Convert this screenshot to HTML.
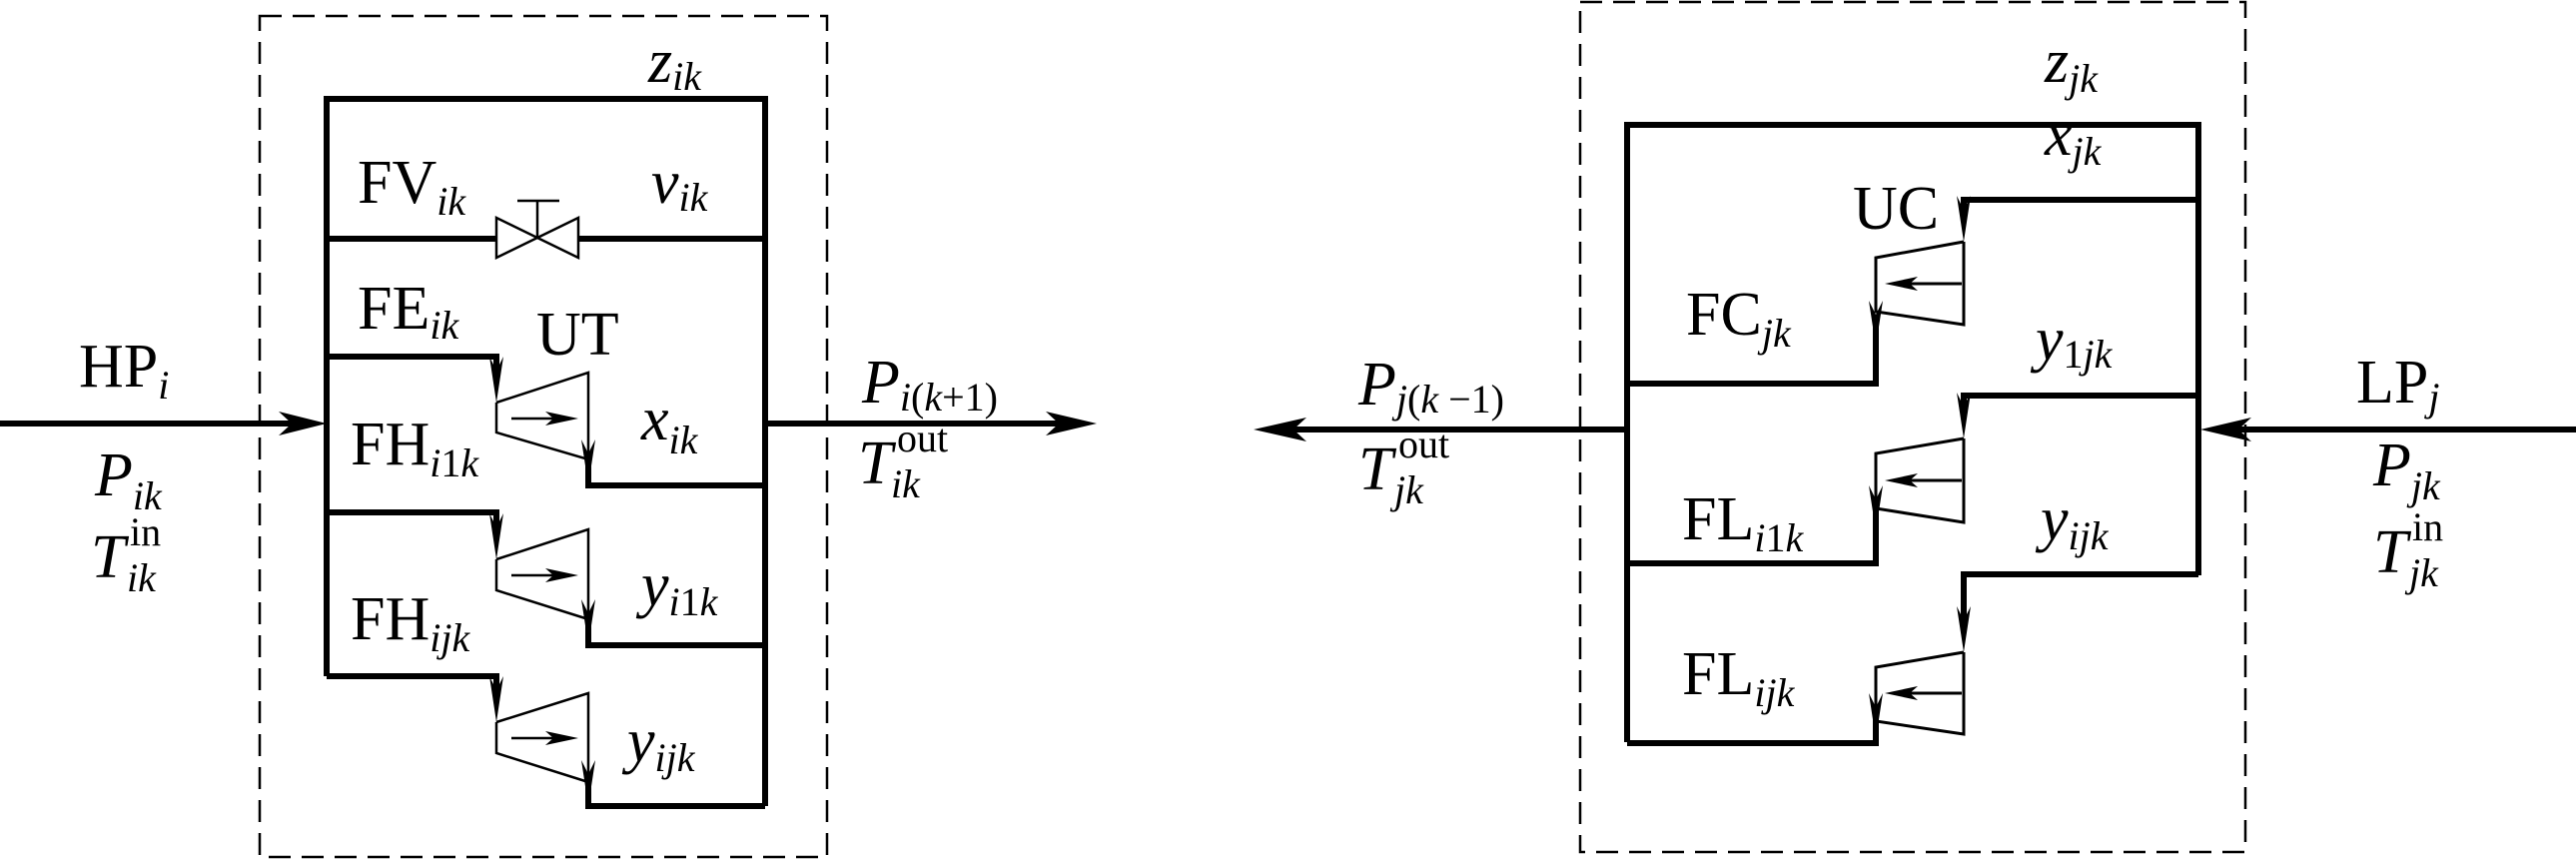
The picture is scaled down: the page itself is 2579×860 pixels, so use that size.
<!DOCTYPE html>
<html><head><meta charset="utf-8"><style>
html,body{margin:0;padding:0;background:#fff}
svg{display:block}
text{font-family:"Liberation Serif","Times New Roman",serif;fill:#000}
</style></head><body>
<svg width="2579" height="860" viewBox="0 0 2579 860" xmlns="http://www.w3.org/2000/svg">
<defs>
<g id="da"><polygon points="0,0 -7,-46 0,-32 7,-46" fill="#000"/></g>
</defs>
<g fill="none" stroke="#000">
<rect x="260" y="16" width="568" height="842" stroke-width="2.5" stroke-dasharray="22,11"/>
<rect x="1582" y="2" width="666" height="851" stroke-width="2.5" stroke-dasharray="22,11"/>

<g stroke-width="6">
<polyline points="327,677 327,99 766,99 766,807"/>
<line x1="327" y1="239" x2="497" y2="239"/>
<line x1="579" y1="239" x2="766" y2="239"/>
<polyline points="327,357 497,357 497,375"/>
<polyline points="589,460 589,486 766,486"/>
<polyline points="327,513 497,513 497,532"/>
<polyline points="589,620 589,646 766,646"/>
<polyline points="327,677 497,677 497,695"/>
<polyline points="589,783 589,807 766,807"/>
<line x1="0" y1="424" x2="300" y2="424"/>
<line x1="766" y1="424" x2="1060" y2="424"/>
</g>
<g stroke-width="2.5">
<polygon points="497,218 497,258 579,218 579,258"/>
<line x1="538" y1="238" x2="538" y2="201"/>
<line x1="518" y1="201" x2="560" y2="201"/>
<polyline points="497,403 497,433 589,460 589,373 497,403"/>
<line x1="512" y1="419" x2="560" y2="419"/>
<polyline points="497,560 497,591 589,620 589,530 497,560"/>
<line x1="512" y1="576" x2="560" y2="576"/>
<polyline points="497,723 497,754 589,783 589,694 497,723"/>
<line x1="512" y1="739" x2="560" y2="739"/>
</g>

<g stroke-width="6">
<polyline points="1629,743 1629,125 2201,125 2201,576"/>
<polyline points="2201,200 1966,200 1966,215"/>
<polyline points="1878,320 1878,384 1629,384"/>
<polyline points="2201,396 1966,396 1966,412"/>
<polyline points="1878,510 1878,564 1629,564"/>
<polyline points="2201,575 1966,575 1966,625"/>
<polyline points="1878,720 1878,744 1629,744"/>
<line x1="1629" y1="430" x2="1290" y2="430"/>
<line x1="2579" y1="430" x2="2230" y2="430"/>
</g>
<g stroke-width="3">
<polyline points="1966,242 1878,258 1878,312 1966,325 1966,242"/>
<line x1="1964" y1="284" x2="1910" y2="284"/>
<polyline points="1966,439 1878,454 1878,509 1966,523 1966,439"/>
<line x1="1964" y1="481" x2="1910" y2="481"/>
<polyline points="1966,653 1878,668 1878,722 1966,735 1966,653"/>
<line x1="1964" y1="694" x2="1910" y2="694"/>
</g>
</g>

<g fill="#000">
<use href="#da" x="497" y="403"/>
<use href="#da" x="589" y="486"/>
<use href="#da" x="497" y="560"/>
<use href="#da" x="589" y="646"/>
<use href="#da" x="497" y="723"/>
<use href="#da" x="589" y="807"/>
<use href="#da" x="1966" y="242"/>
<use href="#da" x="1878" y="347"/>
<use href="#da" x="1966" y="439"/>
<use href="#da" x="1878" y="532"/>
<use href="#da" x="1966" y="653"/>
<use href="#da" x="1878" y="740"/>
<polygon points="579,419 546,412 554,419 546,426"/>
<polygon points="579,576 546,569 554,576 546,583"/>
<polygon points="579,739 546,732 554,739 546,746"/>
<polygon points="1887,284 1920,277 1912,284 1920,291"/>
<polygon points="1887,481 1920,474 1912,481 1920,488"/>
<polygon points="1887,694 1920,687 1912,694 1920,701"/>
<polygon points="327,424 279,412 292,424 279,436"/>
<polygon points="1098,424 1047,412 1060,424 1047,436"/>
<polygon points="1255,430 1308,418 1295,430 1308,442"/>
<polygon points="2203,430 2254,418 2241,430 2254,442"/>
</g>

<g font-size="62">
<text x="649" y="82" font-style="italic">z<tspan font-size="40" dy="8">ik</tspan></text>
<text x="358" y="203">FV<tspan font-size="40" font-style="italic" dy="12">ik</tspan></text>
<text x="652" y="203" font-style="italic">v<tspan font-size="40" dy="8">ik</tspan></text>
<text x="358" y="329">FE<tspan font-size="40" font-style="italic" dy="10">ik</tspan></text>
<text x="537" y="355">UT</text>
<text x="79" y="387">HP<tspan font-size="40" font-style="italic" dy="12">i</tspan></text>
<text x="351" y="465">FH<tspan font-size="40" font-style="italic" dy="12">i</tspan><tspan font-size="40">1</tspan><tspan font-size="40" font-style="italic">k</tspan></text>
<text x="642" y="440" font-style="italic">x<tspan font-size="40" dy="14">ik</tspan></text>
<text x="95" y="496" font-style="italic">P<tspan font-size="40" dy="14">ik</tspan></text>
<text x="91" y="578" font-style="italic">T<tspan font-size="40" x="127" dy="14">ik</tspan><tspan font-size="40" font-style="normal" x="130" dy="-46">in</tspan></text>
<text x="863" y="403" font-style="italic">P<tspan font-size="40" dy="8">i</tspan><tspan font-size="40" font-style="normal">(</tspan><tspan font-size="40">k</tspan><tspan font-size="40" font-style="normal">+1)</tspan></text>
<text x="859" y="484" font-style="italic">T<tspan font-size="40" x="892" dy="14">ik</tspan><tspan font-size="40" font-style="normal" x="898" dy="-46">out</tspan></text>
<text x="642" y="606" font-style="italic">y<tspan font-size="40" dy="10">i</tspan><tspan font-size="40" font-style="normal">1</tspan><tspan font-size="40">k</tspan></text>
<text x="351" y="640">FH<tspan font-size="40" font-style="italic" dy="12">ijk</tspan></text>
<text x="628" y="762" font-style="italic">y<tspan font-size="40" dy="10">ijk</tspan></text>

<text x="2047" y="82" font-style="italic">z<tspan font-size="40" dy="10">jk</tspan></text>
<text x="2047" y="155" font-style="italic">x<tspan font-size="40" dy="10">jk</tspan></text>
<text x="1855" y="229">UC</text>
<text x="1688" y="335">FC<tspan font-size="40" font-style="italic" dy="12">jk</tspan></text>
<text x="2038" y="360" font-style="italic">y<tspan font-size="40" font-style="normal" dy="8">1</tspan><tspan font-size="40">jk</tspan></text>
<text x="1360" y="405" font-style="italic">P<tspan font-size="40" dy="8">j</tspan><tspan font-size="40" font-style="normal">(</tspan><tspan font-size="40">k</tspan><tspan font-size="40" font-style="normal"> −1)</tspan></text>
<text x="2359" y="403">LP<tspan font-size="40" font-style="italic" dy="8">j</tspan></text>
<text x="1360" y="490" font-style="italic">T<tspan font-size="40" x="1396" dy="14">jk</tspan><tspan font-size="40" font-style="normal" x="1400" dy="-46">out</tspan></text>
<text x="1684" y="540">FL<tspan font-size="40" font-style="italic" dy="12">i</tspan><tspan font-size="40">1</tspan><tspan font-size="40" font-style="italic">k</tspan></text>
<text x="2043" y="540" font-style="italic">y<tspan font-size="40" dy="10">ijk</tspan></text>
<text x="2376" y="486" font-style="italic">P<tspan font-size="40" dy="14">jk</tspan></text>
<text x="2376" y="573" font-style="italic">T<tspan font-size="40" x="2412" dy="14">jk</tspan><tspan font-size="40" font-style="normal" x="2415" dy="-46">in</tspan></text>
<text x="1684" y="695">FL<tspan font-size="40" font-style="italic" dy="12">ijk</tspan></text>
</g>
</svg>
</body></html>
